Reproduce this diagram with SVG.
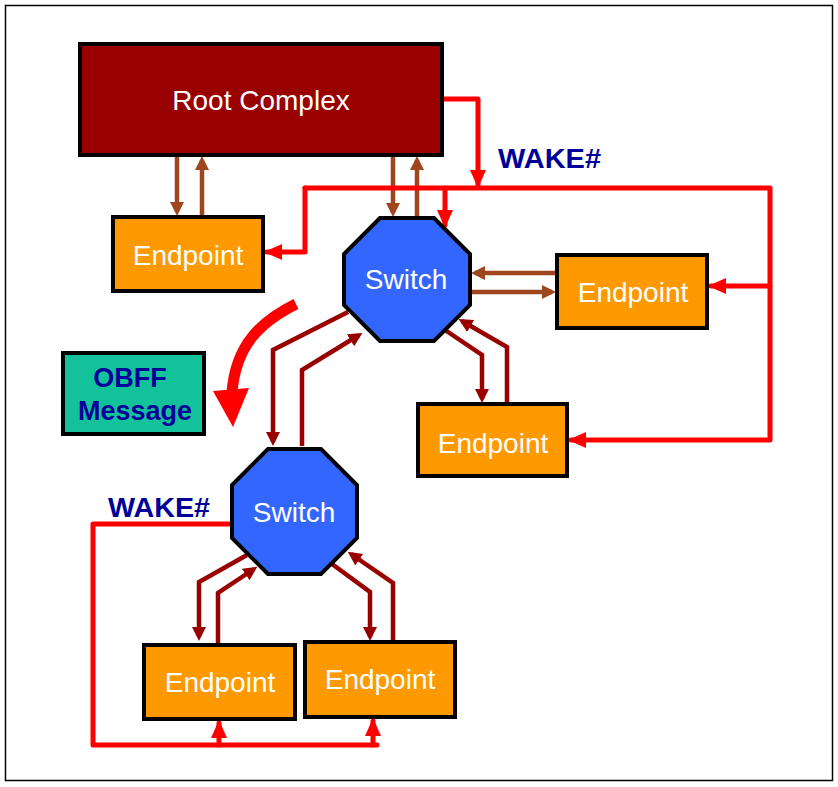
<svg xmlns="http://www.w3.org/2000/svg" width="838" height="787" viewBox="0 0 838 787">
<style>
.box{stroke:#000;stroke-width:4}
.lbl{font-family:"Liberation Sans",Arial,sans-serif;font-size:28px;fill:#fff;text-anchor:middle}
.blue{font-family:"Liberation Sans",Arial,sans-serif;font-size:27px;font-weight:bold;fill:#000099}
.br{fill:none;stroke:#A0461E;stroke-width:4.5;marker-end:url(#mb)}
.dr{fill:none;stroke:#990000;stroke-width:4.5;marker-end:url(#md)}
.rd{fill:none;stroke:#FF0000;stroke-width:5;stroke-linejoin:round;stroke-linecap:round}
.ra{marker-end:url(#mr)}
</style>
<defs>
<marker id="mb" markerUnits="userSpaceOnUse" markerWidth="16" markerHeight="16" refX="10" refY="7" orient="auto"><path d="M0,0 L14,7 L0,14 z" fill="#A0461E"/></marker>
<marker id="md" markerUnits="userSpaceOnUse" markerWidth="16" markerHeight="16" refX="10" refY="7" orient="auto"><path d="M0,0 L14,7 L0,14 z" fill="#990000"/></marker>
<marker id="mr" markerUnits="userSpaceOnUse" markerWidth="20" markerHeight="18" refX="15" refY="8" orient="auto"><path d="M0,0 L18,8 L0,16 z" fill="#FF0000"/></marker>
</defs>
<rect x="5.5" y="5.5" width="827" height="775" fill="#fff" stroke="#000" stroke-width="1.5"/>

<g id="connectors">
<path class="br" d="M177,156 L177,212"/>
<path class="br" d="M202,216 L202,160"/>
<path class="br" d="M393,156 L393,213"/>
<path class="br" d="M417,217 L417,160"/>
<path class="br" d="M556,273 L475,273"/>
<path class="br" d="M471,292 L552,292"/>
<path class="dr" d="M445,330 L482,355 L482,399"/>
<path class="dr" d="M507,403 L507,347 L462,321"/>
<path class="dr" d="M348,312 L273,350 L273,442"/>
<path class="dr" d="M302,446 L302,370 L359,335"/>
<path class="dr" d="M247,555 L199,582 L199,637"/>
<path class="dr" d="M218,644 L218,593 L254,569"/>
<path class="dr" d="M332,564 L370,592 L370,637"/>
<path class="dr" d="M393,641 L393,583 L351,554"/>
<path class="rd ra" d="M443,99 L478,99 L478,185"/>
<path class="rd ra" d="M305,188 L770,188 L770,440 L571,440"/>
<path class="rd ra" d="M305,188 L305,252 L267,252"/>
<path class="rd ra" d="M445,188 L445,225"/>
<path class="rd ra" d="M770,286 L711,286"/>
<path class="rd" d="M231,524 L93,524 L93,745 L377,745"/>
<path class="rd ra" d="M219,745 L219,723"/>
<path class="rd ra" d="M373,745 L373,721"/>
<path d="M296,304 C260,322 236,345 232,392" fill="none" stroke="#FF0000" stroke-width="11"/>
<polygon points="213,391 249,388 233,427" fill="#FF0000"/>
</g>

<g id="root-complex">
<rect class="box" x="80" y="44" width="362" height="111" fill="#990000"/>
<text class="lbl" x="261" y="110">Root Complex</text>
</g>

<g id="endpoint-1">
<rect class="box" x="113" y="217" width="150" height="74" fill="#FF9900"/>
<text class="lbl" x="188" y="265">Endpoint</text>
</g>

<g id="switch-1">
<polygon class="box" points="380,218 434,218 470,254 470,305 434,341 380,341 344,305 344,254" fill="#3366FF"/>
<text class="lbl" x="406" y="289">Switch</text>
</g>

<g id="endpoint-2">
<rect class="box" x="557" y="255" width="150" height="73" fill="#FF9900"/>
<text class="lbl" x="633" y="302">Endpoint</text>
</g>

<g id="endpoint-3">
<rect class="box" x="418" y="404" width="149" height="72" fill="#FF9900"/>
<text class="lbl" x="493" y="453">Endpoint</text>
</g>

<g id="switch-2">
<polygon class="box" points="268,449 321,449 357,485 357,538 321,574 268,574 232,538 232,485" fill="#3366FF"/>
<text class="lbl" x="294" y="522">Switch</text>
</g>

<g id="endpoint-4">
<rect class="box" x="144" y="645" width="151" height="74" fill="#FF9900"/>
<text class="lbl" x="220" y="692">Endpoint</text>
</g>

<g id="endpoint-5">
<rect class="box" x="305" y="642" width="150" height="75" fill="#FF9900"/>
<text class="lbl" x="380" y="689">Endpoint</text>
</g>

<g id="obff-message">
<rect class="box" x="63" y="353" width="141" height="81" fill="#13C29A"/>
<text class="blue" x="130" y="387" text-anchor="middle">OBFF</text>
<text class="blue" x="135" y="420" text-anchor="middle">Message</text>
</g>

<g id="labels">
<text class="blue" x="498" y="168" textLength="103" lengthAdjust="spacingAndGlyphs">WAKE#</text>
<text class="blue" x="108" y="517" textLength="102" lengthAdjust="spacingAndGlyphs">WAKE#</text>
</g>
</svg>
